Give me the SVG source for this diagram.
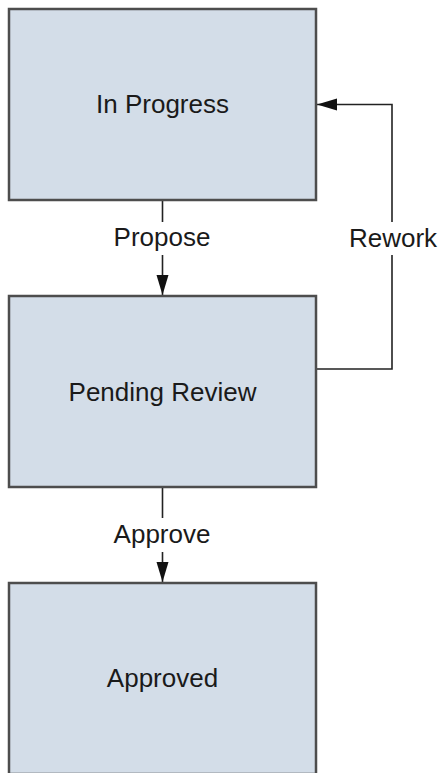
<svg xmlns="http://www.w3.org/2000/svg" width="441" height="773" viewBox="0 0 441 773">
<style>
.box{fill:#d3dde8;stroke:#4d4d4d;stroke-width:2.5}
.lbl{font-family:"Liberation Sans",Arial,sans-serif;font-size:26px;fill:#1a1a1a;text-anchor:middle}
.conn{fill:none;stroke:#222;stroke-width:1.6}
</style>
<defs>
<marker id="arr" markerUnits="userSpaceOnUse" markerWidth="20" markerHeight="12" refX="20" refY="6" orient="auto" overflow="visible">
<path d="M0,0 L20,6 L0,12 z" fill="#111"/>
</marker>
</defs>
<rect width="441" height="773" fill="#fff"/>
<g id="connectors">
<g id="e-propose">
<path class="conn" d="M162.5,200 V222 M162.5,255 V295" marker-end="url(#arr)"/>
<text class="lbl" x="162" y="246">Propose</text>
</g>
<g id="e-rework">
<path class="conn" d="M316,369 H392 V255 M392,222 V104.5 H317" marker-end="url(#arr)"/>
<text class="lbl" x="393" y="247">Rework</text>
</g>
<g id="e-approve">
<path class="conn" d="M162.5,487 V518 M162.5,552 V582" marker-end="url(#arr)"/>
<text class="lbl" x="162" y="543">Approve</text>
</g>
</g>
<g id="n-inprogress">
<rect class="box" x="9" y="9" width="307" height="191"/>
<text class="lbl" x="162.5" y="113">In Progress</text>
</g>
<g id="n-pending">
<rect class="box" x="9" y="296" width="307" height="191"/>
<text class="lbl" x="162.5" y="401">Pending Review</text>
</g>
<g id="n-approved">
<rect class="box" x="9" y="583" width="307" height="191"/>
<text class="lbl" x="162.5" y="687">Approved</text>
</g>
</svg>
